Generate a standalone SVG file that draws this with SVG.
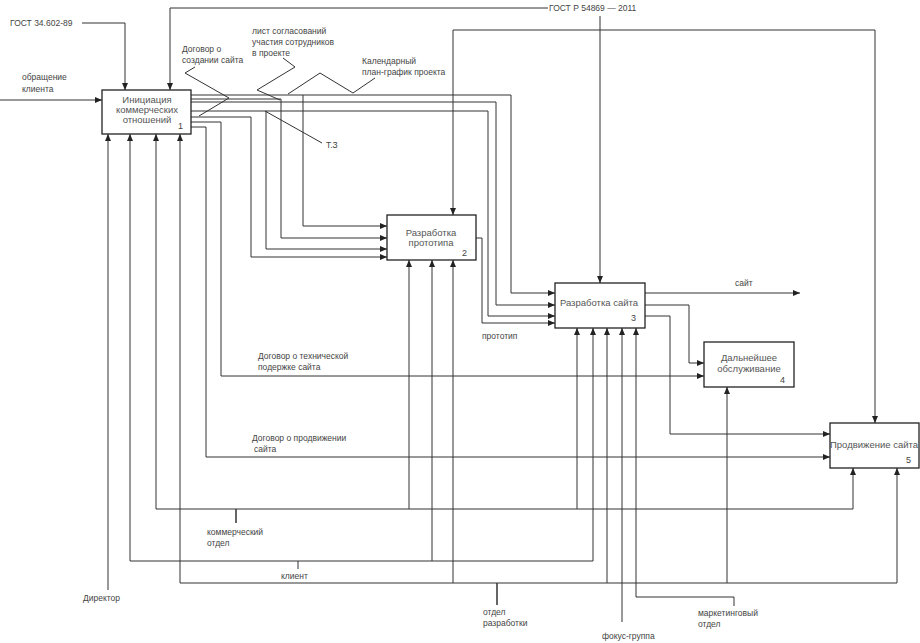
<svg xmlns="http://www.w3.org/2000/svg" width="920" height="643" viewBox="0 0 920 643">
<style>
.bg{fill:#fff}
.box{fill:#fff;stroke:#222;stroke-width:1.3}
.c path{fill:none;stroke:#333;stroke-width:1}
.c path.a{marker-end:url(#ah)}
.s{fill:none;stroke:#444;stroke-width:0.9}
text{font-family:"Liberation Sans",Arial,sans-serif;fill:#444;font-weight:normal}
.lb{font-size:8.5px}
.bt{font-size:9.5px;text-anchor:middle;fill:#555}
.n{font-size:9px;fill:#444}
</style>
<defs>
<marker id="ah" markerUnits="userSpaceOnUse" markerWidth="7" markerHeight="6" refX="7" refY="3" orient="auto"><path d="M0,0 L7,3 L0,6 z" fill="#222"/></marker>
</defs>
<rect class="bg" width="920" height="643"/>
<g id="connectors" class="c">
<path class="a" d="M0,100 H102"/>
<path class="a" d="M82,23 H125 V90"/>
<path class="a" d="M548,8 H170 V90"/>
<path class="a" d="M600,16 V283"/>
<path class="a" d="M600,30 H453 V215"/>
<path class="a" d="M600,30 H875 V423"/>
<path class="a" d="M191,95 H511 V293 H555"/>
<path class="a" d="M303,95 V226 H387"/>
<path class="a" d="M191,99 H281 V238 H387"/>
<path class="a" d="M191,102 H496 V305 H555"/>
<path class="a" d="M191,111 H488 V316 H555"/>
<path class="a" d="M266,111 V249 H387"/>
<path class="a" d="M191,117 H251 V257 H387"/>
<path class="a" d="M191,122 H221 V376 H704"/>
<path class="a" d="M191,127 H206 V457 H830"/>
<path class="a" d="M476,238 H482 V323 H555"/>
<path class="a" d="M645,293 H800"/>
<path class="a" d="M645,305 H689 V363 H704"/>
<path class="a" d="M645,316 H670 V434 H830"/>
<path class="a" d="M108,590 V134"/>
<path d="M130,561 H593"/>
<path class="a" d="M130,561 V134"/>
<path class="a" d="M432,561 V260"/>
<path class="a" d="M593,561 V328"/>
<path d="M298,561 V569"/>
<path d="M156,509 H853"/>
<path class="a" d="M156,509 V134"/>
<path class="a" d="M409,509 V260"/>
<path class="a" d="M577,509 V328"/>
<path class="a" d="M853,509 V468"/>
<path d="M236,509 V523" style="stroke-width:1.5"/>
<path d="M180,583 H897"/>
<path class="a" d="M180,583 V134"/>
<path class="a" d="M453,583 V260"/>
<path class="a" d="M607,583 V328"/>
<path class="a" d="M727,583 V387"/>
<path class="a" d="M897,583 V468"/>
<path d="M497,583 V605" style="stroke-width:1.5"/>
<path class="a" d="M622,622 V328"/>
<path class="a" d="M734,606 V597 H636 V328"/>
<path class="s" d="M195,67 L185,73 L229,98 L199,116"/>
<path class="s" d="M283,58 L295,67 L257,90 L280,100"/>
<path class="s" d="M375,78 L353,93 L320,73 L288,94"/>
<path class="s" d="M265,111 L322,143"/>
</g>
<g id="n1"><rect class="box" x="102" y="90" width="89" height="44"/>
<text class="bt" x="147" y="103">Инициация</text><text class="bt" x="147" y="113">коммерческих</text><text class="bt" x="147" y="123">отношений</text><text class="n" x="178" y="129">1</text></g>
<g id="n2"><rect class="box" x="387" y="215" width="89" height="45"/>
<text class="bt" x="431" y="236">Разработка</text><text class="bt" x="431" y="246">прототипа</text><text class="n" x="462" y="256">2</text></g>
<g id="n3"><rect class="box" x="555" y="283" width="90" height="45"/>
<text class="bt" x="599" y="306">Разработка сайта</text><text class="n" x="631" y="321">3</text></g>
<g id="n4"><rect class="box" x="704" y="342" width="90" height="45"/>
<text class="bt" x="749" y="361">Дальнейшее</text><text class="bt" x="749" y="372">обслуживание</text><text class="n" x="780" y="383">4</text></g>
<g id="n5"><rect class="box" x="830" y="423" width="89" height="45"/>
<text class="bt" x="874" y="448">Продвижение сайта</text><text class="n" x="906" y="463">5</text></g>
<g id="labels">
<text class="lb" x="10" y="26">ГОСТ 34.602-89</text>
<text class="lb" x="22" y="80">обращение</text><text class="lb" x="22" y="92">клиента</text>
<text class="lb" x="549" y="11">ГОСТ Р 54869 — 2011</text>
<text class="lb" x="182" y="52">Договор о</text><text class="lb" x="182" y="63">создании сайта</text>
<text class="lb" x="252" y="34">лист согласований</text><text class="lb" x="252" y="45">участия сотрудников</text><text class="lb" x="252" y="56">в проекте</text>
<text class="lb" x="362" y="64">Календарный</text><text class="lb" x="362" y="75">план-график проекта</text>
<text class="lb" x="326" y="148">Т.З</text>
<text class="lb" x="735" y="286">сайт</text>
<text class="lb" x="482" y="339">прототип</text>
<text class="lb" x="258" y="359">Договор о технической</text><text class="lb" x="258" y="370">подержке сайта</text>
<text class="lb" x="252" y="441">Договор о продвижении</text><text class="lb" x="254" y="452">сайта</text>
<text class="lb" x="207" y="535">коммерческий</text><text class="lb" x="207" y="546">отдел</text>
<text class="lb" x="281" y="579">клиент</text>
<text class="lb" x="83" y="601">Директор</text>
<text class="lb" x="483" y="615">отдел</text><text class="lb" x="483" y="626">разработки</text>
<text class="lb" x="602" y="639">фокус-группа</text>
<text class="lb" x="698" y="616">маркетинговый</text><text class="lb" x="698" y="627">отдел</text>
</g>
</svg>
